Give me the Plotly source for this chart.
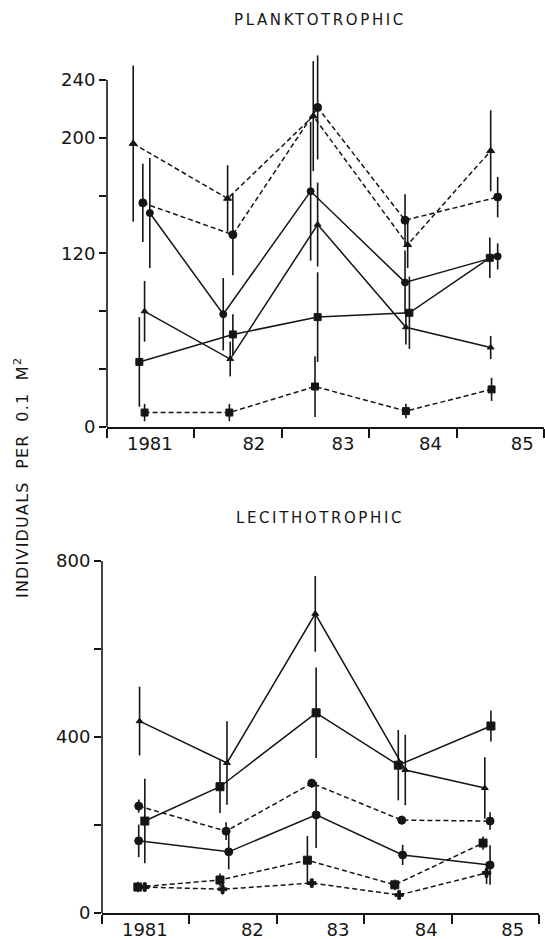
import plotly.graph_objects as go

W, H = 545, 939

# ---------------- data ----------------
# x positions are in "years since left axis" (0 = start of 1981 band)
# ---- PLANKTOTROPHIC (top) ----
pA_x = [0.30, 1.38, 2.36, 3.44, 4.39]; pA_y = [196, 158, 215, 126, 191]; pA_e = [54, 23, 38, 16, 28]   # dashed triangles
pB_x = [0.41, 1.44, 2.41, 3.41, 4.47]; pB_y = [155, 133, 221, 143, 159]; pB_e = [27, 28, 36, 18, 14]   # dashed circles
pC_x = [0.49, 1.33, 2.33, 3.41, 4.47]; pC_y = [148, 78, 163, 100, 118]; pC_e = [38, 25, 48, 22, 9]     # solid circles
pD_x = [0.43, 1.41, 2.41, 3.42, 4.39]; pD_y = [80, 47, 140, 69, 55]; pD_e = [21, 12, 29, 12, 8]        # solid triangles
pE_x = [0.37, 1.44, 2.41, 3.46, 4.38]; pE_y = [45, 64, 76, 79, 117]; pE_e = [31, 14, 31, 25, 14]       # solid squares
pF_x = [0.43, 1.40, 2.38, 3.42, 4.40]; pF_y = [10, 10, 28, 11, 26]; pF_e = [6, 6, 21, 5, 8]            # dashed squares

# ---- LECITHOTROPHIC (bottom) ----
lG_x = [0.43, 1.43, 2.44, 3.47, 4.38]; lG_y = [436, 341, 680, 325, 284]; lG_e = [78, 95, 86, 80, 70]   # solid triangles
lH_x = [0.49, 1.35, 2.45, 3.39, 4.45]; lH_y = [209, 287, 455, 336, 425]; lH_e = [96, 60, 103, 80, 35]  # solid squares
lI_x = [0.42, 1.42, 2.40, 3.43, 4.44]; lI_y = [243, 186, 295, 211, 209]; lI_e = [15, 20, 10, 10, 20]   # dashed circles
lJ_x = [0.42, 1.45, 2.45, 3.44, 4.44]; lJ_y = [164, 139, 223, 132, 109]; lJ_e = [37, 40, 75, 23, 45]   # solid circles
lK_x = [0.41, 1.35, 2.35, 3.35, 4.36]; lK_y = [59, 75, 120, 64, 159]; lK_e = [12, 15, 55, 12, 15]      # dashed squares
lL_x = [0.49, 1.38, 2.40, 3.40, 4.40]; lL_y = [59, 54, 68, 41, 91]; lL_e = [10, 12, 8, 10, 25]         # dashed crosses

year_labels = ["1981", "82", "83", "84", "85"]
top_label_pos = [0.49, 1.68, 2.70, 3.70, 4.75]
bot_label_pos = [0.49, 1.72, 2.70, 3.71, 4.70]
year_ticks = [0, 1, 2, 3, 4, 5]
top_ylabels = [0, 120, 200, 240]
top_yticks = [0, 40, 80, 120, 160, 200, 240]
bot_ylabels = [0, 400, 800]
bot_yticks = [0, 200, 400, 600, 800]

# ---------------- figure ----------------
INK = "#151515"
DASH = "5px,3px"
fig = go.Figure()

def add(x, y, e, sym, size, dash, xa, ya):
    fig.add_trace(go.Scatter(
        x=x, y=y, mode="lines+markers", xaxis=xa, yaxis=ya,
        line=dict(color=INK, width=1.5, dash=dash),
        marker=dict(symbol=sym, size=size, color=INK,
                    line=dict(color=INK, width=1)),
        error_y=dict(type="data", array=e, visible=True, width=0,
                     thickness=1.6, color=INK),
        showlegend=False, cliponaxis=False))

add(pA_x, pA_y, pA_e, "triangle-up", 7, DASH, "x", "y")
add(pB_x, pB_y, pB_e, "circle", 8, DASH, "x", "y")
add(pC_x, pC_y, pC_e, "circle", 7, "solid", "x", "y")
add(pD_x, pD_y, pD_e, "triangle-up", 6, "solid", "x", "y")
add(pE_x, pE_y, pE_e, "square", 7, "solid", "x", "y")
add(pF_x, pF_y, pF_e, "square", 7, DASH, "x", "y")

add(lG_x, lG_y, lG_e, "triangle-up", 6, "solid", "x2", "y2")
add(lH_x, lH_y, lH_e, "square", 8, "solid", "x2", "y2")
add(lI_x, lI_y, lI_e, "circle", 8, DASH, "x2", "y2")
add(lJ_x, lJ_y, lJ_e, "circle", 8, "solid", "x2", "y2")
add(lK_x, lK_y, lK_e, "square", 8, DASH, "x2", "y2")
add(lL_x, lL_y, lL_e, "cross", 7, DASH, "x2", "y2")

FONT = "DejaVu Sans"
tickfont = dict(family=FONT, size=18, color=INK)

def xaxis(domain, labpos, anchor):
    return dict(domain=domain, range=[0, 5], anchor=anchor,
                showline=True, linecolor=INK, linewidth=1.6,
                showgrid=False, zeroline=False,
                tickmode="array", tickvals=labpos, ticktext=year_labels,
                ticks="", tickfont=tickfont, automargin=False,
                minor=dict(tickmode="array", tickvals=year_ticks, ticks="outside",
                           ticklen=9, tickwidth=1.6, tickcolor=INK, showgrid=False))

def yaxis(domain, rng, labels, ticks, anchor):
    return dict(domain=domain, range=rng, anchor=anchor,
                showline=False, showgrid=False, zeroline=False,
                tickmode="array", tickvals=labels, ticktext=[str(v) for v in labels],
                ticks="outside", ticklen=7, tickwidth=1.6, tickcolor=INK,
                tickfont=tickfont, automargin=False,
                minor=dict(tickmode="array", tickvals=ticks, ticks="outside",
                           ticklen=7, tickwidth=1.6, tickcolor=INK, showgrid=False))

top_x_dom = [107 / W, 544 / W]
bot_x_dom = [102 / W, 539 / W]
top_y_dom = [1 - 427 / H, 1 - (427 - 260 * 1.446) / H]
bot_y_dom = [1 - 913 / H, 1 - (913 - 810 * 0.44) / H]

fig.update_layout(
    width=W, height=H,
    margin=dict(l=0, r=0, t=0, b=0),
    paper_bgcolor="white", plot_bgcolor="white",
    xaxis=xaxis(top_x_dom, top_label_pos, "y"),
    yaxis=yaxis(top_y_dom, [0, 260], top_ylabels, top_yticks, "x"),
    xaxis2=xaxis(bot_x_dom, bot_label_pos, "y2"),
    yaxis2=yaxis(bot_y_dom, [0, 810], bot_ylabels, bot_yticks, "x2"),
)

# y-axis lines (only up to the top labelled tick)
fig.add_shape(type="line", xref="x domain", yref="y", x0=0, x1=0, y0=0, y1=240,
              line=dict(color=INK, width=1.6))
fig.add_shape(type="line", xref="x2 domain", yref="y2", x0=0, x1=0, y0=0, y1=800,
              line=dict(color=INK, width=1.6))

titlefont = dict(family=FONT, size=15, color=INK)
fig.add_annotation(text='<span style="letter-spacing:2.6px">PLANKTOTROPHIC</span>',
                   x=320 / W, y=1 - 20 / H, xref="paper", yref="paper",
                   showarrow=False, font=titlefont, xanchor="center", yanchor="middle")
fig.add_annotation(text='<span style="letter-spacing:2.6px">LECITHOTROPHIC</span>',
                   x=320 / W, y=1 - 518 / H, xref="paper", yref="paper",
                   showarrow=False, font=titlefont, xanchor="center", yanchor="middle")
fig.add_annotation(text='<span style="letter-spacing:1.2px">INDIVIDUALS  PER  0.1  M<sup>2</sup></span>',
                   x=21 / W, y=1 - 478 / H,
                   xref="paper", yref="paper", showarrow=False, textangle=-90,
                   font=dict(family=FONT, size=16, color=INK),
                   xanchor="center", yanchor="middle")

fig.write_html("out.html")
